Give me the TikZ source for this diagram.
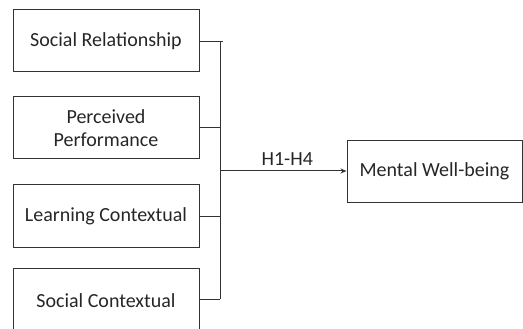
\documentclass[tikz,border=0pt]{standalone}
\usepackage{fontspec}
\setmainfont{Carlito}
\usetikzlibrary{arrows.meta}
\begin{document}
\begin{tikzpicture}[x=1pt,y=-1pt,
  box/.style={draw=black!80, line width=1pt, minimum width=186pt, minimum height=62pt, inner sep=0pt, align=center, font=\fontsize{20}{23.5}\selectfont, text=black!85},
  link/.style={draw=black!80, line width=1pt},
  lab/.style={font=\fontsize{20}{23.5}\selectfont, text=black!85}]
\clip (0,0) rectangle (523,329);
\node[box] (sr) at (106,41) {Social Relationship};
\node[box] (pp) at (106,128) {Perceived\\Performance};
\node[box] (lc) at (106,216) {Learning Contextual};
\node[box, minimum height=66pt] (sc) at (106,301) {Social Contextual};
\node[box, minimum width=175pt, minimum height=61pt] (mw) at (434.5,171.5) {Mental Well-being};
\coordinate (bt) at (220,42);
\coordinate (bb) at (220,299);
\coordinate (hub) at (220,171);
\draw[link] (sr.east |- bt) -- (223,42);
\draw[link] (bt) -- (bb);
\draw[link] (pp.east) -- (pp.east -| bt);
\draw[link] (lc.east) -- (lc.east -| bt);
\draw[link] (sc.east |- bb) -- (bb);
\draw[link, -{Stealth[length=6pt,width=5pt]}] (hub) -- (mw.west |- hub) node[lab, midway, above=2pt, xshift=4pt] {H1-H4};
\end{tikzpicture}
\end{document}
